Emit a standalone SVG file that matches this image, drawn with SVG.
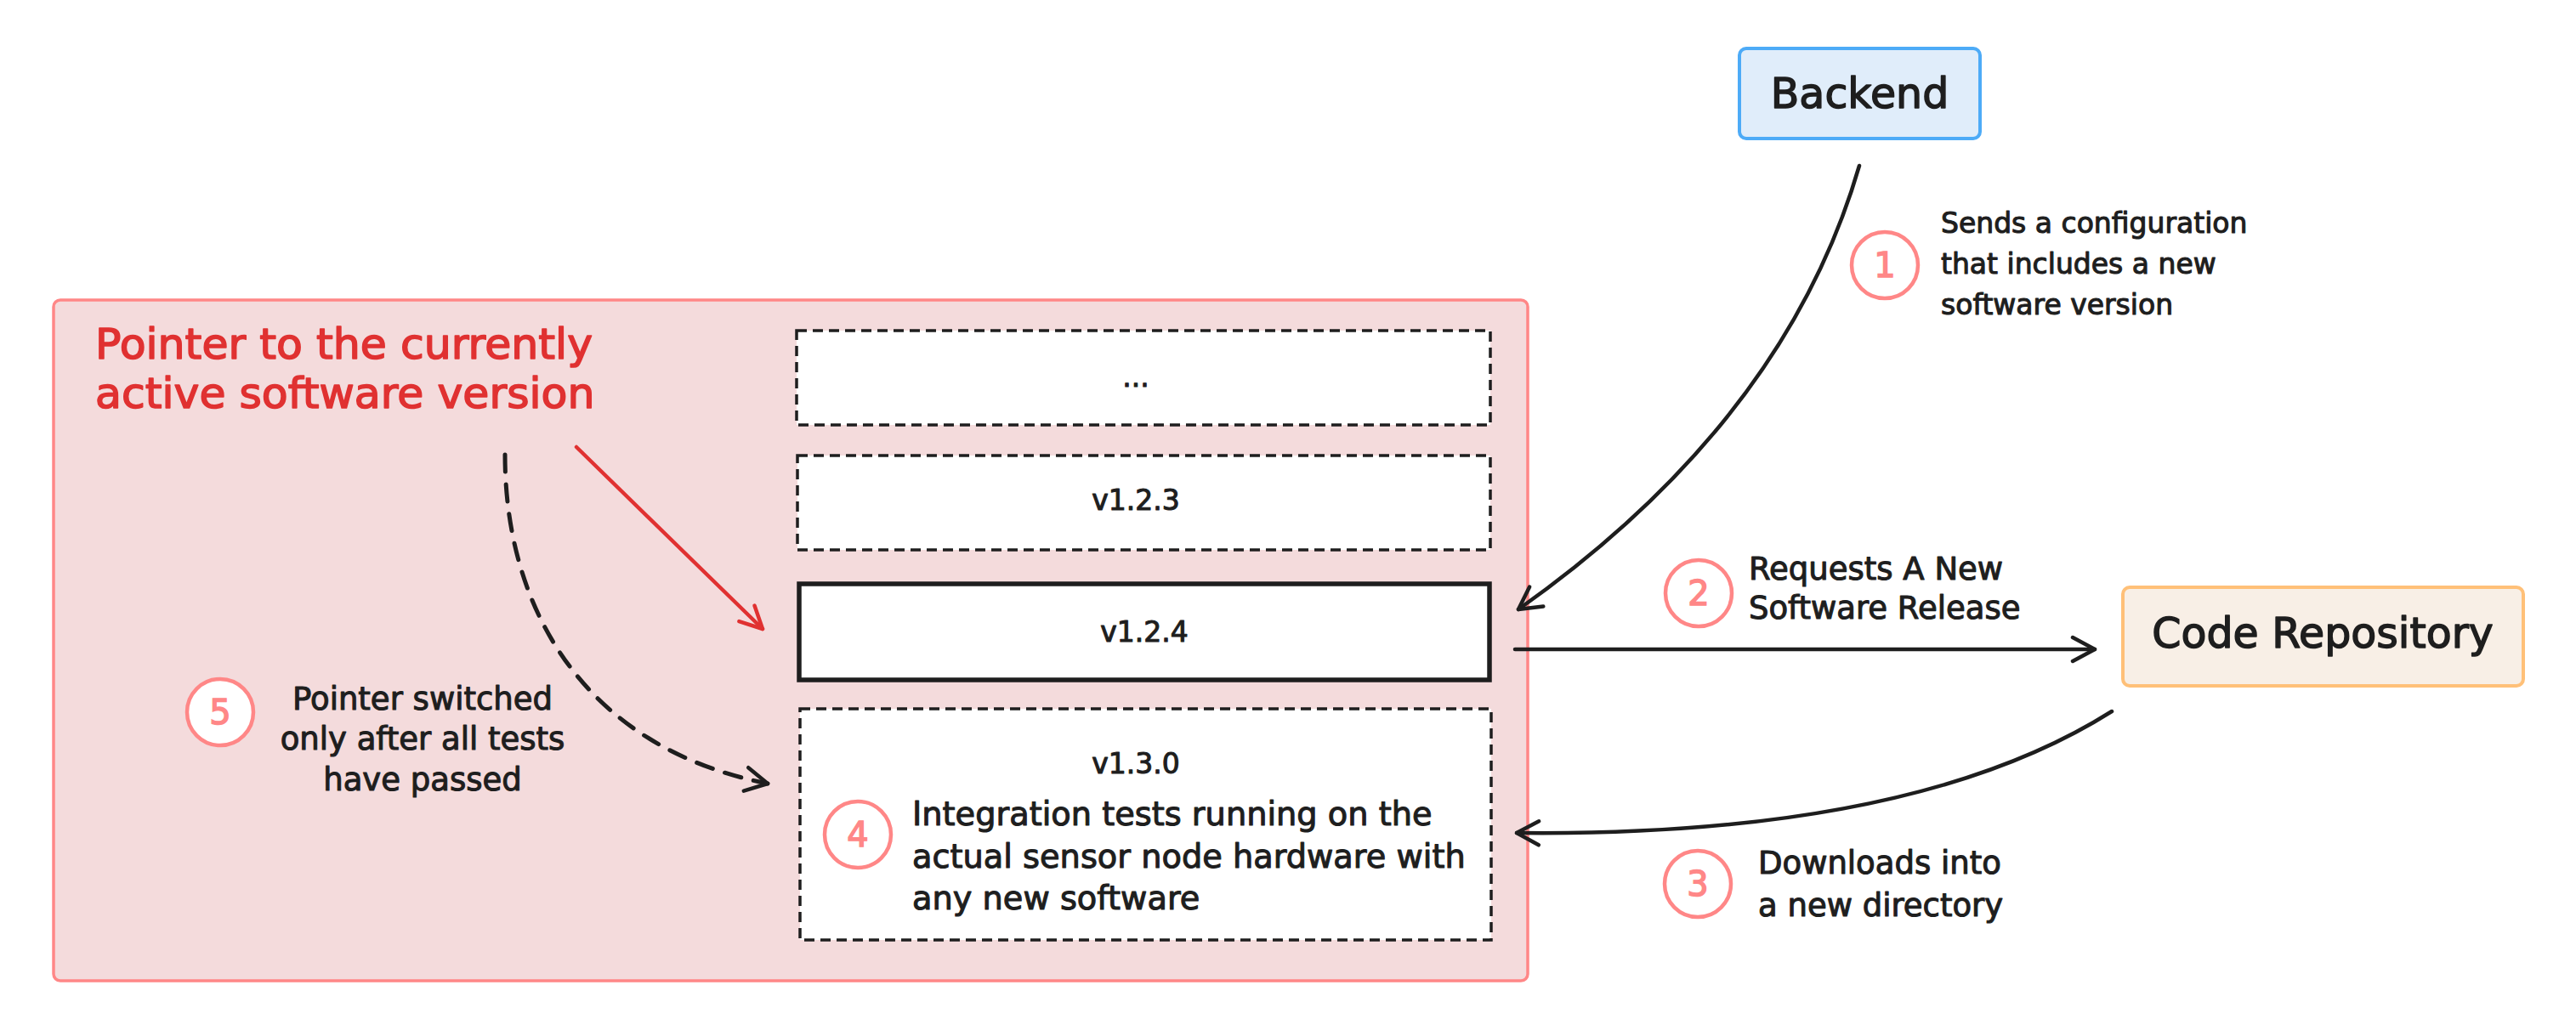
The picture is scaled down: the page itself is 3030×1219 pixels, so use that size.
<svg xmlns="http://www.w3.org/2000/svg" width="3030" height="1219" viewBox="0 0 3030 1219">
<defs>
<style>
.t{font-family:"DejaVu Sans","Liberation Sans",sans-serif;fill:#1e1e1e;stroke:#1e1e1e;stroke-width:1.1px;stroke-linejoin:round;}
.lbl{font-size:37px;}
.big{font-size:49px;stroke-width:1.5px;}
.ver{font-size:33px;text-anchor:middle;}
.red{fill:#e03131;stroke:#e03131;stroke-width:1.6px;font-size:50.5px;}
.num{font-family:"DejaVu Sans","Liberation Sans",sans-serif;font-size:40px;fill:#ff8787;stroke:#ff8787;stroke-width:1.5px;text-anchor:middle;}
.badge{fill:#ffffff;stroke:#ff8787;stroke-width:4.5;}
.dbox{fill:#ffffff;stroke:#1e1e1e;stroke-width:3.5;stroke-dasharray:12 7;}
.conn{fill:none;stroke:#1e1e1e;stroke-width:4.5;stroke-linecap:round;}
</style>
<marker id="ah" markerUnits="userSpaceOnUse" markerWidth="60" markerHeight="60" refX="0" refY="0" viewBox="-40 -30 50 60" orient="auto">
<path d="M-26,-14 L0,0 L-26,14" fill="none" stroke="#1e1e1e" stroke-width="4.5" stroke-linecap="round" stroke-linejoin="round"/>
</marker>
<marker id="ahr" markerUnits="userSpaceOnUse" markerWidth="60" markerHeight="60" refX="0" refY="0" viewBox="-40 -30 50 60" orient="auto">
<path d="M-26,-13 L0,0 L-26,13" fill="none" stroke="#e03131" stroke-width="4.5" stroke-linecap="round" stroke-linejoin="round"/>
</marker>
</defs>
<rect width="3030" height="1219" fill="#ffffff"/>

<g id="device">
<rect x="63" y="353" width="1734" height="801" rx="8" fill="#f4dbdc" stroke="#ff8787" stroke-width="3.5"/>
<text class="t red" x="112" y="422">Pointer to the currently</text>
<text class="t red" x="112" y="480">active software version</text>
</g>

<g id="v-dots">
<rect class="dbox" x="937" y="389" width="816" height="111"/>
<text class="t ver" x="1336" y="455">...</text>
</g>
<g id="v123">
<rect class="dbox" x="938" y="536" width="815" height="111"/>
<text class="t ver" x="1336" y="600">v1.2.3</text>
</g>
<g id="v124">
<rect x="940" y="687" width="812" height="113" fill="#ffffff" stroke="#1e1e1e" stroke-width="5.5"/>
<text class="t ver" x="1346" y="755">v1.2.4</text>
</g>
<g id="v130">
<rect class="dbox" x="941" y="834" width="813" height="272"/>
<text class="t ver" x="1336" y="910">v1.3.0</text>
<circle class="badge" cx="1009" cy="982" r="39"/>
<text class="num" x="1009" y="996">4</text>
<text class="t" font-size="38.3" x="1073" y="971">Integration tests running on the</text>
<text class="t" font-size="38.3" x="1073" y="1021">actual sensor node hardware with</text>
<text class="t" font-size="38.3" x="1073" y="1070">any new software</text>
</g>

<g id="backend">
<rect x="2046" y="57" width="283" height="106" rx="8" fill="#e0edfa" stroke="#4dabf7" stroke-width="4"/>
<text class="t big" x="2187.5" y="127" text-anchor="middle" font-size="50">Backend</text>
</g>

<g id="code-repo">
<rect x="2497" y="691" width="471" height="116" rx="8" fill="#f8efe6" stroke="#ffc078" stroke-width="4"/>
<text class="t big" x="2732" y="762" text-anchor="middle">Code Repository</text>
</g>

<g id="step1">
<circle class="badge" cx="2217" cy="312" r="39"/>
<text class="num" x="2217" y="326">1</text>
<text class="t" font-size="33" x="2283" y="274">Sends a configuration</text>
<text class="t" font-size="33" x="2283" y="322">that includes a new</text>
<text class="t" font-size="33" x="2283" y="370">software version</text>
</g>
<g id="step2">
<circle class="badge" cx="1998" cy="698" r="39"/>
<text class="num" x="1998" y="712">2</text>
<text class="t lbl" x="2057" y="682">Requests A New</text>
<text class="t lbl" x="2057" y="728">Software Release</text>
</g>
<g id="step3">
<circle class="badge" cx="1997" cy="1040" r="39"/>
<text class="num" x="1997" y="1054">3</text>
<text class="t lbl" x="2068" y="1028">Downloads into</text>
<text class="t lbl" x="2068" y="1078">a new directory</text>
</g>
<g id="step5">
<circle class="badge" cx="259" cy="838" r="39"/>
<text class="num" x="259" y="852">5</text>
<text class="t lbl" x="497" y="835" text-anchor="middle">Pointer switched</text>
<text class="t lbl" x="497" y="882" text-anchor="middle">only after all tests</text>
<text class="t lbl" x="497" y="930" text-anchor="middle">have passed</text>
</g>

<g id="connectors">
<path class="conn" d="M2187,195 Q2100,495 1786,717" marker-end="url(#ah)"/>
<path class="conn" d="M1782,764 L2464,764" marker-end="url(#ah)"/>
<path class="conn" d="M2484,837 Q2250,985 1784,980" marker-end="url(#ah)"/>
<path class="conn" d="M678,526 L897,740" style="stroke:#e03131" marker-end="url(#ahr)"/>
<path class="conn" d="M594,535 C594,720 690,880 903,922" stroke-dasharray="20 15" style="stroke-width:5" marker-end="url(#ah)"/>
</g>
</svg>
